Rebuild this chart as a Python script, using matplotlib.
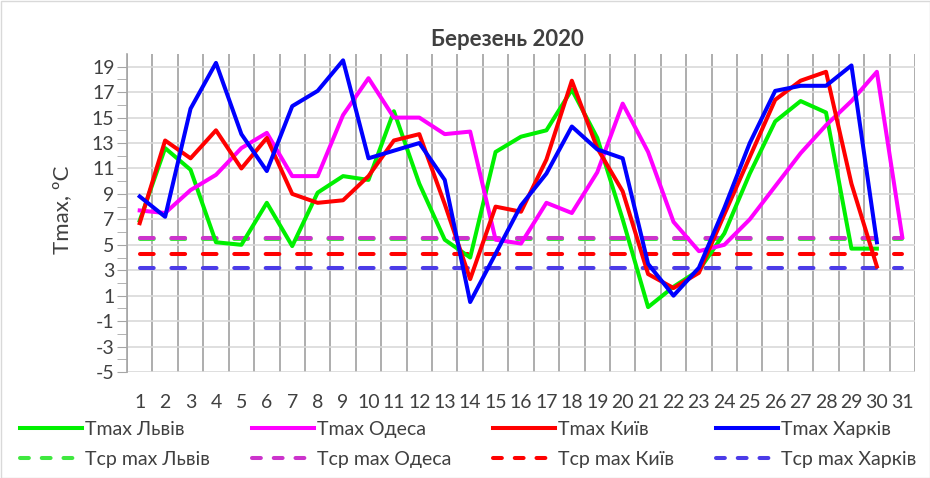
import matplotlib.pyplot as plt
from matplotlib.lines import Line2D
from matplotlib.patches import Rectangle
import numpy as np

plt.rcParams['font.family'] = ['Lato', 'DejaVu Sans']
plt.rcParams['axes.unicode_minus'] = False

days = list(range(1, 32))

t_lviv = [6.9, 12.6, 10.9, 5.2, 5.0, 8.3, 4.9, 9.1, 10.4, 10.1,
          15.5, 9.8, 5.4, 4.0, 12.3, 13.5, 14.0, 17.2, 13.4, 7.0,
          0.1, 1.7, 3.0, 5.9, 10.6, 14.7, 16.3, 15.4, 4.7, 4.7]
t_odesa = [7.7, 7.5, 9.3, 10.5, 12.6, 13.8, 10.4, 10.4, 15.2, 18.1,
           15.0, 15.0, 13.7, 13.9, 5.4, 5.1, 8.3, 7.5, 10.7, 16.1,
           12.3, 6.8, 4.5, 5.0, 7.0, 9.6, 12.2, 14.4, 16.3, 18.6, 5.6]
t_kyiv = [6.7, 13.2, 11.8, 14.0, 11.0, 13.4, 9.0, 8.3, 8.5, 10.4,
          13.2, 13.7, 8.2, 2.3, 8.0, 7.6, 11.7, 17.9, 12.6, 9.2,
          2.7, 1.6, 2.8, 7.4, 11.9, 16.4, 17.9, 18.6, 9.8, 3.3]
t_kharkiv = [8.8, 7.2, 15.7, 19.3, 13.7, 10.8, 15.9, 17.1, 19.5, 11.8,
             12.4, 13.0, 10.1, 0.5, 4.3, 8.1, 10.6, 14.3, 12.5, 11.8,
             3.5, 1.0, 3.2, 7.9, 13.0, 17.1, 17.5, 17.5, 19.1, 5.2]

avg_lviv = 5.45
avg_odesa = 5.5
avg_kyiv = 4.3
avg_kharkiv = 3.15

W, H = 930, 478
fig = plt.figure(figsize=(W / 100, H / 100), dpi=100)
ax = fig.add_axes([127 / W, 1 - 372 / H, (915 - 127) / W, (372 - 54) / H])

lw = 2.9
ax.plot(days, [avg_lviv] * 31, color='#3FE83F', lw=lw, dashes=(3.4, 4.4), dash_capstyle='round')
ax.plot(days, [avg_odesa] * 31, color='#CC33CC', lw=lw, dashes=(3.4, 4.4), dash_capstyle='round')
ax.plot(days, [avg_kyiv] * 31, color='#FF0000', lw=lw, dashes=(3.4, 4.4), dash_capstyle='round')
ax.plot(days, [avg_kharkiv] * 31, color='#4B3BE8', lw=lw, dashes=(3.4, 4.4), dash_capstyle='round')

ax.plot(days[:30], t_lviv, color='#00F000', lw=lw)
ax.plot(days, t_odesa, color='#FF00FF', lw=lw)
ax.plot(days[:30], t_kyiv, color='#FF0000', lw=lw)
ax.plot(days[:30], t_kharkiv, color='#0000FF', lw=lw)

ax.set_xlim(0.5, 31.5)
ax.set_ylim(-5, 20)
ax.set_yticks(np.arange(-5, 20, 2))
ax.set_yticks(np.arange(-4, 20, 2), minor=True)
ax.set_xticks(days)
ax.set_xticks(np.arange(0.5, 32, 1), minor=True)
ax.tick_params(axis='y', which='both', length=7, color='#A6A6A6', labelsize=14,
               labelcolor='#404040', pad=2)
ax.tick_params(axis='x', which='both', length=0, labelsize=14, labelcolor='#404040', pad=16)
ax.grid(axis='y', which='major', color='#D9D9D9', lw=1.2)
ax.grid(axis='x', which='minor', color='#A0A0A0', lw=1.2)
ax.set_axisbelow(True)
for s in ['top', 'right', 'bottom']:
    ax.spines[s].set_visible(False)
ax.spines['left'].set_color('#A6A6A6')
ax.spines['left'].set_linewidth(1.2)

fig.text(62 / W, 1 - 210 / H, 'Tmax, ºC', rotation=90, ha='center', va='center',
         fontsize=16, color='#404040')
fig.text(507 / W, 1 - 39 / H, 'Березень 2020', ha='center', va='center',
         fontsize=16, fontweight='bold', color='#404040')

handles = [
    Line2D([], [], color='#00F000', lw=lw),
    Line2D([], [], color='#3FE83F', lw=lw, dashes=(2.2, 3.2), dash_capstyle='round'),
    Line2D([], [], color='#FF00FF', lw=lw),
    Line2D([], [], color='#CC33CC', lw=lw, dashes=(2.2, 3.2), dash_capstyle='round'),
    Line2D([], [], color='#FF0000', lw=lw),
    Line2D([], [], color='#FF0000', lw=lw, dashes=(2.2, 3.2), dash_capstyle='round'),
    Line2D([], [], color='#0000FF', lw=lw),
    Line2D([], [], color='#4B3BE8', lw=lw, dashes=(2.2, 3.2), dash_capstyle='round'),
]
labels = ['Tmax Львів', 'Tср max Львів', 'Tmax Одеса', 'Tср max Одеса',
          'Tmax Київ', 'Tср max Київ', 'Tmax Харків', 'Tср max Харків']
fig.legend(handles, labels, ncol=4, loc='lower left', mode='expand',
           bbox_to_anchor=(12 / W, 2 / H, 912 / W, 70 / H), frameon=False,
           fontsize=14, labelcolor='#404040', handlelength=3.2, handletextpad=0.15,
           labelspacing=0.7, borderaxespad=0)

fig.add_artist(Rectangle((0.5 / W, 0.5 / H), 1 - 1 / W, 1 - 1 / H, transform=fig.transFigure,
                         fill=False, edgecolor='#D9D9D9', lw=1))

fig.savefig('out.png', dpi=100)
